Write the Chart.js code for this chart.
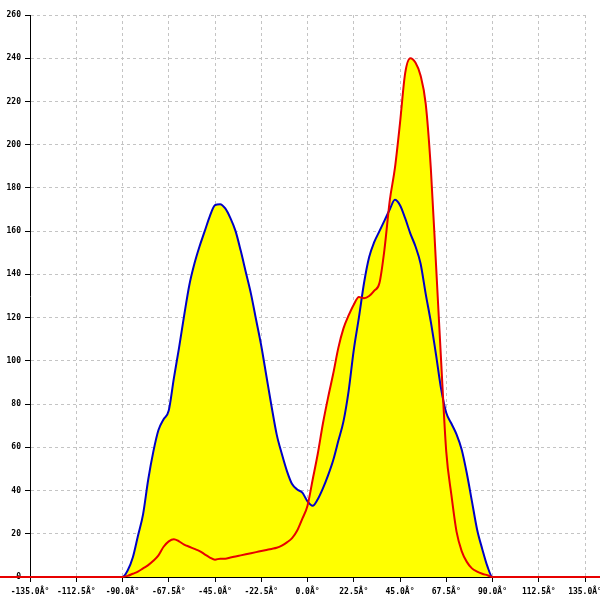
<!DOCTYPE html>
<html>
<head>
<meta charset="utf-8">
<script src="https://cdn.jsdelivr.net/npm/chart.js@4/dist/chart.umd.min.js"></script>
<style>
  html, body { margin: 0; padding: 0; background: #fff; }
  #wrap { width: 600px; height: 600px; }
</style>
</head>
<body>
<div id="wrap"><canvas id="c" width="600" height="600"></canvas></div>
<script>
// angles (degrees)
const angles = [-180,
  -90, -87.5, -85, -82.5, -80, -77.5, -75, -72.5, -70, -67.5, -65, -62.5, -60, -57.5, -55, -52.5,
  -50, -47.5, -45, -42.5, -40, -37.5, -35, -32.5, -30, -27.5, -25, -22.5, -20, -17.5, -15, -12.5,
  -10, -7.5, -5, -2.5, 0, 2.5, 5, 7.5, 10, 12.5, 15, 17.5, 20, 22.5, 25, 27.5, 30, 32.5, 35, 37.5,
  40, 42.5, 45, 47.5, 50, 52.5, 55, 57.5, 60, 62.5, 65, 67.5, 70, 72.5, 75, 77.5, 80, 82.5, 85, 87.5, 90,
  180];

// blue series
const blueValues = [0,
  0, 3, 9, 19, 29, 45, 58, 68, 73, 77, 92, 106, 121, 135, 145, 153,
  160, 167, 172, 172.5, 170.5, 166, 160, 151, 141, 131, 119, 107, 93, 79, 66, 57,
  49, 43, 40.5, 39, 35, 33, 36, 41, 47, 54, 63, 72, 86, 105, 120, 136, 148, 155, 160, 165,
  170, 174.5, 172, 166, 159, 153, 145, 131, 118, 103, 87, 76, 71, 66, 59, 48, 35, 22, 13, 5, 0,
  0];

// red series
const redValues = [0,
  0, 0.5, 1.5, 2.5, 4, 5.5, 7.5, 10, 14, 16.5, 17.5, 16.5, 15, 14, 13, 12,
  10.5, 9, 8, 8.5, 8.5, 9, 9.5, 10, 10.5, 11, 11.5, 12, 12.5, 13, 13.5, 14.5,
  16, 18, 21.5, 27, 33, 45, 57, 71, 83, 94, 106, 115, 121, 126, 129.5, 129, 130, 132.5, 136, 152,
  174, 189, 210, 233, 240, 238, 232, 219, 189, 145, 100, 58, 38, 21, 12, 7, 4, 2.5, 1.5, 0.8, 0,
  0];

const xMin = -135, xMax = 135, xStep = 22.5;
const yMin = 0, yMax = 260, yStep = 20;

const toPts = (vals) => angles.map((a, i) => ({ x: a, y: vals[i] }));

const FONT = { family: 'DejaVu Sans Mono', size: 8, weight: 'bold' };

new Chart(document.getElementById('c'), {
  type: 'line',
  data: {
    datasets: [
      {
        label: 'blue',
        data: toPts(blueValues),
        borderColor: '#0000c8',
        backgroundColor: '#ffff00',
        borderWidth: 2,
        fill: 'origin',
        pointRadius: 0,
        cubicInterpolationMode: 'monotone',
        order: 1
      },
      {
        label: 'red',
        data: toPts(redValues),
        borderColor: '#e80000',
        backgroundColor: '#ffff00',
        borderWidth: 2,
        fill: 'origin',
        pointRadius: 0,
        cubicInterpolationMode: 'monotone',
        clip: false,
        order: 0
      }
    ]
  },
  options: {
    responsive: false,
    animation: false,
    devicePixelRatio: 1,
    layout: { padding: { top: 15, right: 15, left: 0, bottom: 0 } },
    plugins: {
      legend: { display: false },
      tooltip: { enabled: false },
      filler: { drawTime: 'beforeDatasetsDraw' }
    },
    scales: {
      x: {
        type: 'linear',
        min: xMin, max: xMax,
        afterBuildTicks: (s) => {
          const t = [];
          for (let v = xMin; v <= xMax + 1e-9; v += xStep) t.push({ value: v });
          s.ticks = t;
        },
        afterFit: (s) => { s.height = 23; s.paddingLeft = 0; s.paddingRight = 0; },
        ticks: {
          autoSkip: false, maxRotation: 0, minRotation: 0,
          color: '#000', font: FONT, padding: 5,
          callback: (v) => Number(v).toFixed(1) + 'Â°'
        },
        grid: { color: '#c4c4c4', tickColor: '#000', tickLength: 5, lineWidth: 1 },
        border: { display: true, color: '#000', width: 1, dash: [3, 3] }
      },
      y: {
        type: 'linear',
        min: yMin, max: yMax,
        ticks: { stepSize: yStep, color: '#000', font: FONT, padding: 4 },
        afterFit: (s) => { s.width = 30; s.paddingTop = 0; s.paddingBottom = 0; },
        grid: { color: '#c4c4c4', tickColor: '#000', tickLength: 5, lineWidth: 1 },
        border: { display: true, color: '#000', width: 1, dash: [3, 3] }
      }
    }
  }
});
</script>
</body>
</html>
